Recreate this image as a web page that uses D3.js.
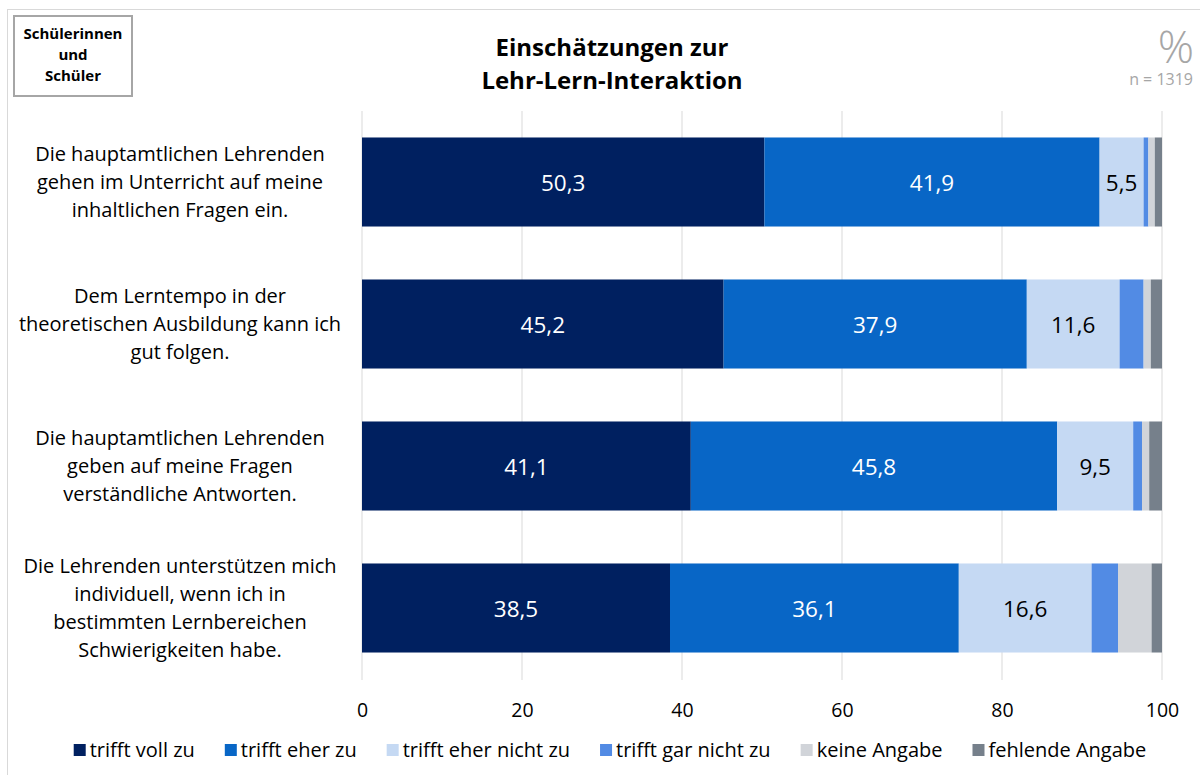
<!DOCTYPE html>
<html><head><meta charset="utf-8">
<script src="https://cdn.jsdelivr.net/npm/d3@7"></script>
<style>
body{margin:0;background:#fff;}
svg{display:block;font-family:"Open Sans", Lato, sans-serif;}
</style></head>
<body><svg id="c" width="1200" height="775"></svg>
<script>
const categories = [
  ["Die hauptamtlichen Lehrenden","gehen im Unterricht auf meine","inhaltlichen Fragen ein."],
  ["Dem Lerntempo in der","theoretischen Ausbildung kann ich","gut folgen."],
  ["Die hauptamtlichen Lehrenden","geben auf meine Fragen","verständliche Antworten."],
  ["Die Lehrenden unterstützen mich","individuell, wenn ich in","bestimmten Lernbereichen","Schwierigkeiten habe."]
];
const seriesNames = ["trifft voll zu","trifft eher zu","trifft eher nicht zu","trifft gar nicht zu","keine Angabe","fehlende Angabe"];
const trifftVollZu      = [50.3, 45.2, 41.1, 38.5];
const trifftEherZu      = [41.9, 37.9, 45.8, 36.1];
const trifftEherNichtZu = [5.5, 11.6, 9.5, 16.6];
const trifftGarNichtZu  = [0.6, 3.0, 1.1, 3.3];
const keineAngabe       = [0.8, 0.9, 0.9, 4.2];
const fehlendeAngabe    = [0.9, 1.4, 1.6, 1.3];
const xTicks = [0, 20, 40, 60, 80, 100];
const colors = ["#002060","#0866c6","#c5d9f3","#528be4","#d1d4d9","#76808b"];
const labelColors = ["#ffffff","#ffffff","#000000",null,null,null];
const labelMin = 5;

const seriesValues = [trifftVollZu, trifftEherZu, trifftEherNichtZu, trifftGarNichtZu, keineAngabe, fehlendeAngabe];
const svg = d3.select("#c");

// outer frame
svg.append("rect").attr("x",7.5).attr("y",9.5).attr("width",1200).attr("height",800)
  .attr("fill","none").attr("stroke","#d9d9d9").attr("stroke-width",1);

// top-left box
svg.append("rect").attr("x",14).attr("y",16).attr("width",118).attr("height",80)
  .attr("fill","#fff").attr("stroke","#a6a6a6").attr("stroke-width",2);
const boxT = svg.append("text").attr("text-anchor","middle").attr("font-weight","bold")
  .attr("font-size",15).attr("fill","#000");
["Schülerinnen","und","Schüler"].forEach((t,i)=>boxT.append("tspan").attr("x",73).attr("y",39+i*21).text(t));

// title
const title = svg.append("text").attr("text-anchor","middle").attr("font-weight","bold")
  .attr("font-size",24).attr("fill","#000");
["Einschätzungen zur","Lehr-Lern-Interaktion"].forEach((t,i)=>title.append("tspan").attr("x",612).attr("y",56+i*33).text(t));

// % and n
svg.append("text").attr("x",1194).attr("y",63).attr("text-anchor","end").attr("font-size",45)
  .attr("fill","#a6a6a6").attr("font-weight","300").text("%");
svg.append("text").attr("x",1193).attr("y",85).attr("text-anchor","end").attr("font-size",16)
  .attr("fill","#a6a6a6").text("n = 1319");

const x = d3.scaleLinear().domain([0,100]).range([362,1162]);
const y = d3.scaleBand().domain(d3.range(categories.length)).range([111,679]).paddingInner(0.373).paddingOuter(0.1865);

// gridlines
svg.append("g").selectAll("line").data(xTicks).join("line")
  .attr("x1",d=>x(d)).attr("x2",d=>x(d)).attr("y1",111).attr("y2",680)
  .attr("stroke","#d9d9d9").attr("stroke-width",1);

// stacked bars
const rows = categories.map((c,i)=>{
  let acc = 0;
  return seriesValues.map((s,j)=>{const o={cat:i,ser:j,x0:acc,x1:acc+s[i],v:s[i]}; acc+=s[i]; return o;});
});
const segs = rows.flat();
svg.append("g").selectAll("rect").data(segs).join("rect")
  .attr("x",d=>x(d.x0)).attr("width",d=>x(d.x1)-x(d.x0))
  .attr("y",d=>y(d.cat)).attr("height",y.bandwidth())
  .attr("fill",d=>colors[d.ser]);

svg.append("g").selectAll("text").data(segs.filter(d=>d.v>=labelMin && labelColors[d.ser])).join("text")
  .attr("x",d=>x((d.x0+d.x1)/2)).attr("y",d=>y(d.cat)+y.bandwidth()/2+9)
  .attr("text-anchor","middle").attr("font-size",22.5).attr("fill",d=>labelColors[d.ser])
  .text(d=>d3.format(".1f")(d.v).replace(".",","));

// category labels
categories.forEach((lines,i)=>{
  const cy = y(i)+y.bandwidth()/2;
  const t = svg.append("text").attr("text-anchor","middle").attr("font-size",20).attr("fill","#000");
  lines.forEach((l,k)=>t.append("tspan").attr("x",180)
    .attr("y",cy+(k-(lines.length-1)/2)*28+7).text(l));
});

// x axis labels
const ax = svg.append("g").attr("transform","translate(0,680)").call(d3.axisBottom(x).tickValues(xTicks).tickSize(0));
ax.select(".domain").remove();
ax.selectAll("text").attr("y",37).attr("dy",0).attr("font-size",19.5).attr("fill","#000").attr("font-family","'Open Sans', Lato, sans-serif");

// legend
const lg = svg.append("g");
let lx = 0;
const gap = 30;
seriesNames.forEach((n,i)=>{
  const g = lg.append("g");
  g.append("rect").attr("x",0).attr("y",-6).attr("width",12).attr("height",12).attr("fill",colors[i]);
  const t = g.append("text").attr("x",16).attr("y",7).attr("font-size",20).attr("fill","#000").text(n);
  const w = 16 + t.node().getComputedTextLength();
  g.attr("transform",`translate(${lx},750)`);
  lx += w + gap;
});
const totalW = lx - gap;
lg.attr("transform",`translate(${610-totalW/2},0)`);
</script></body></html>
